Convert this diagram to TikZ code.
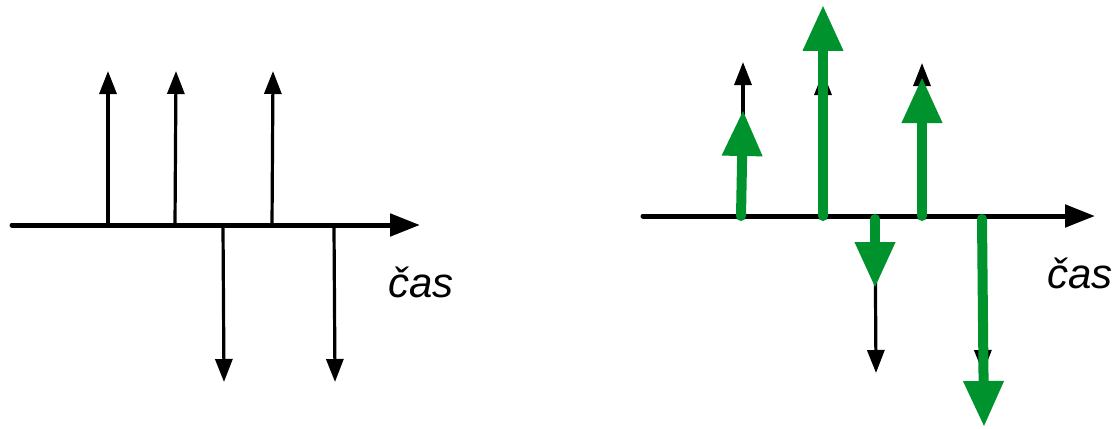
\documentclass[tikz,border=0pt]{standalone}
\usepackage{fontspec}
\setmainfont{Liberation Sans}
\usetikzlibrary{arrows.meta}
\definecolor{grn}{RGB}{0,146,44}
\begin{document}
\begin{tikzpicture}[x=0.75pt,y=-0.75pt,
  axisline/.style={line width=3.75pt, line cap=round, -{Triangle[length=22.5pt,width=16.5pt]}},
  thinarrow/.style={line width=2.4pt, -{Triangle[length=17.25pt,width=12.75pt]}},
  pulse/.style={draw=grn, line width=7.5pt, line cap=round, -{Triangle[length=34.5pt,width=28.5pt,fill=grn]}},
  lbl/.style={inner sep=0pt, anchor=base west, font=\fontsize{31.5}{38}\selectfont\itshape}]
\useasboundingbox (0,0) rectangle (1119,428);
% ---------- left diagram ----------
\coordinate (La0) at (12,225);
\coordinate (La1) at (420,225);
\draw[axisline] (La0) -- (La1);
\coordinate (Lb1) at (108,225); \coordinate (Lt1) at (108,71);
\coordinate (Lb2) at (175,225); \coordinate (Lt2) at (176,71);
\coordinate (Lb3) at (272,225); \coordinate (Lt3) at (273,71);
\coordinate (Lb4) at (223,227); \coordinate (Lt4) at (224,382);
\coordinate (Lb5) at (334,227); \coordinate (Lt5) at (335,382);
\draw[thinarrow] (Lb1) -- (Lt1);
\draw[thinarrow] (Lb2) -- (Lt2);
\draw[thinarrow] (Lb3) -- (Lt3);
\draw[thinarrow] (Lb4) -- (Lt4);
\draw[thinarrow] (Lb5) -- (Lt5);
\node[lbl] (Lcas) at (388,297) {čas};
% ---------- right diagram ----------
\coordinate (Ra0) at (643,216);
\coordinate (Ra1) at (1095,216);
\draw[axisline] (Ra0) -- (Ra1);
\coordinate (Rb1) at (743,216); \coordinate (Rt1) at (743,62);
\coordinate (Rb2) at (823,216); \coordinate (Rt2) at (823,72);
\coordinate (Rb3) at (922,216); \coordinate (Rt3) at (922,63);
\coordinate (Rb4) at (875,218); \coordinate (Rt4) at (876,373);
\coordinate (Rb5) at (982,218); \coordinate (Rt5) at (983,373);
\draw[thinarrow] (Rb1) -- (Rt1);
\draw[thinarrow] (Rb2) -- (Rt2);
\draw[thinarrow] (Rb3) -- (Rt3);
\draw[thinarrow] (Rb4) -- (Rt4);
\draw[thinarrow] (Rb5) -- (Rt5);
\coordinate (Gb1) at (741,216); \coordinate (Gt1) at (743,110);
\coordinate (Gb2) at (823,216); \coordinate (Gt2) at (823,5);
\coordinate (Gb3) at (922,216); \coordinate (Gt3) at (922,77);
\coordinate (Gb4) at (875,219); \coordinate (Gt4) at (875,288);
\coordinate (Gb5) at (982,219); \coordinate (Gt5) at (984,427);
\draw[pulse] (Gb1) -- (Gt1);
\draw[pulse] (Gb2) -- (Gt2);
\draw[pulse] (Gb3) -- (Gt3);
\draw[pulse] (Gb4) -- (Gt4);
\draw[pulse] (Gb5) -- (Gt5);
\node[lbl] (Rcas) at (1047,288) {čas};
\end{tikzpicture}
\end{document}
